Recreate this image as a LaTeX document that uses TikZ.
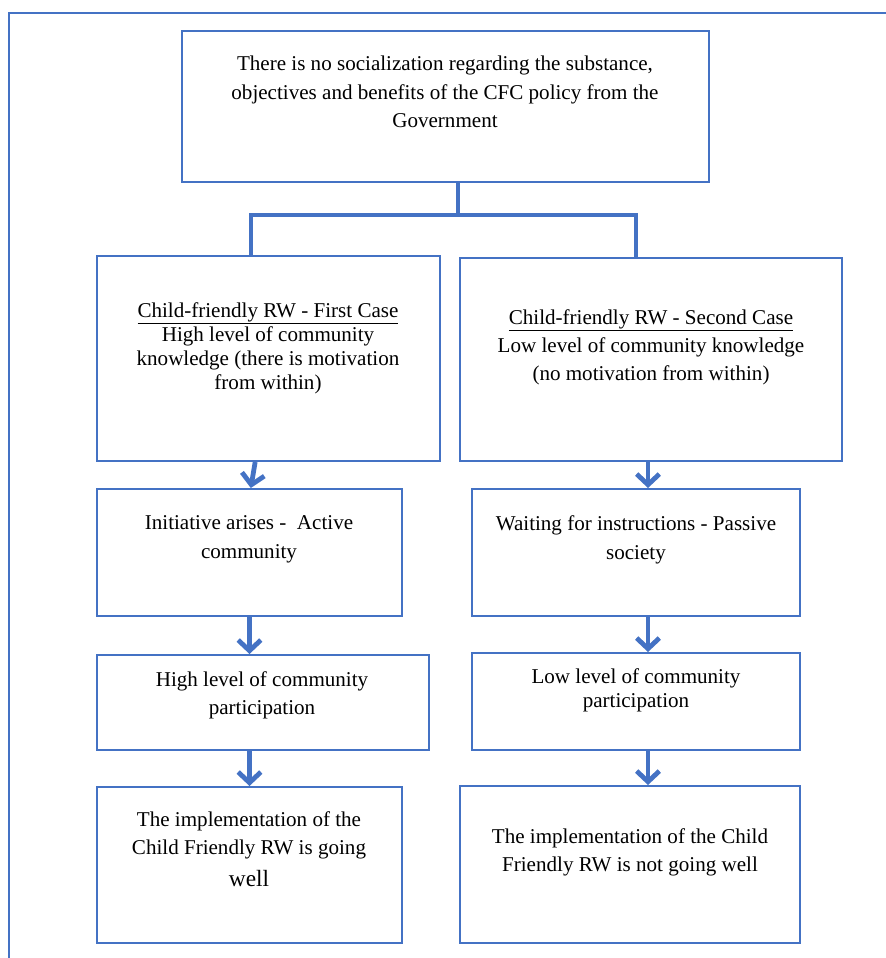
\documentclass[tikz,border=0pt]{standalone}
\usepackage{fontspec}
\setmainfont{Liberation Serif}
\usetikzlibrary{arrows.meta,fit}
\definecolor{bblue}{HTML}{4472C4}
\begin{document}
\begin{tikzpicture}[x=0.75pt,y=-0.75pt,
  box/.style={draw=bblue,line width=1.5pt,inner sep=0pt},
  txt/.style={anchor=north,align=center,inner sep=0pt,font=\fontsize{15.8}{21.4}\selectfont},
  arr/.style={draw=bblue,line width=3.6pt,-{Straight Barb[length=8pt,width=17pt]}},
  bus/.style={draw=bblue,line width=3.5pt,line join=miter},
  frame/.style={draw=bblue,line width=1.5pt}]
\useasboundingbox (0,0) rectangle (886,958);
\coordinate (fb) at (9,958);
\coordinate (fc) at (9,13);
\coordinate (fr) at (886,13);
\draw[frame] (fb) -- (fc) -- (fr);

\node[box,fit={(182,31) (709,182)}] (top) {};
\node[box,fit={(97,256) (440,461)}] (L1) {};
\node[box,fit={(460,258) (842,461)}] (R1) {};
\node[box,fit={(97,489) (402,616)}] (L2) {};
\node[box,fit={(472,489) (800,616)}] (R2) {};
\node[box,fit={(97,655) (429,750)}] (L3) {};
\node[box,fit={(472,653) (800,750)}] (R3) {};
\node[box,fit={(97,787) (402,943)}] (L4) {};
\node[box,fit={(460,786) (800,943)}] (R4) {};

\node[txt] (ttop) at (445,56) {There is no socialization regarding the substance,\\objectives and benefits of the CFC policy from the\\Government};
\node[txt,font=\fontsize{15.8}{18}\selectfont] (tL1) at (268,302) {\underline{Child-friendly RW - First Case}\\High level of community\\knowledge (there is motivation\\from within)};
\node[txt,font=\fontsize{15.8}{21}\selectfont] (tR1) at (651,309) {\underline{Child-friendly RW - Second Case}\\Low level of community knowledge\\(no motivation from within)};
\node[txt,font=\fontsize{15.8}{21.75}\selectfont] (tL2) at (249,515) {Initiative arises -~ Active\\community};
\node[txt,font=\fontsize{15.8}{21.75}\selectfont] (tR2) at (636,515) {Waiting for instructions - Passive\\society};
\node[txt,font=\fontsize{15.8}{21}\selectfont] (tL3) at (262,671) {High level of community\\participation};
\node[txt,font=\fontsize{15.8}{18}\selectfont] (tR3) at (636,668) {Low level of community\\participation};
\node[txt,font=\fontsize{15.8}{21}\selectfont] (tL4) at (249,811) {The implementation of the\\Child Friendly RW is going\\[3.5pt]{\fontsize{17.5}{21}\selectfont well}};
\node[txt,font=\fontsize{15.8}{21}\selectfont] (tR4) at (630,828) {The implementation of the Child\\Friendly RW is not going well};

% connector from top box
\coordinate (j) at (458,215);
\coordinate (bl) at (251,215);
\coordinate (br) at (636,215);
\draw[draw=bblue,line width=3pt] (j |- top.south) -- (j);
\draw[bus] (bl |- L1.north) -- (bl) -- (br) -- (br |- R1.north);

% arrows
\draw[arr] ([xshift=-10pt]L1.south) -- ([xshift=1pt]L2.north);
\draw[arr] (L2.south) -- (L2.south |- L3.north);
\draw[arr] (L4.north |- L3.south) -- (L4.north);
\draw[arr] ([xshift=-2.25pt]R1.south) -- ([xshift=-2.25pt]R1.south |- R2.north);
\draw[arr] ([xshift=9pt]R2.south) -- ([xshift=9pt]R3.north);
\draw[arr] ([xshift=9pt]R3.south) -- ([xshift=13.5pt]R4.north);
\end{tikzpicture}
\end{document}
